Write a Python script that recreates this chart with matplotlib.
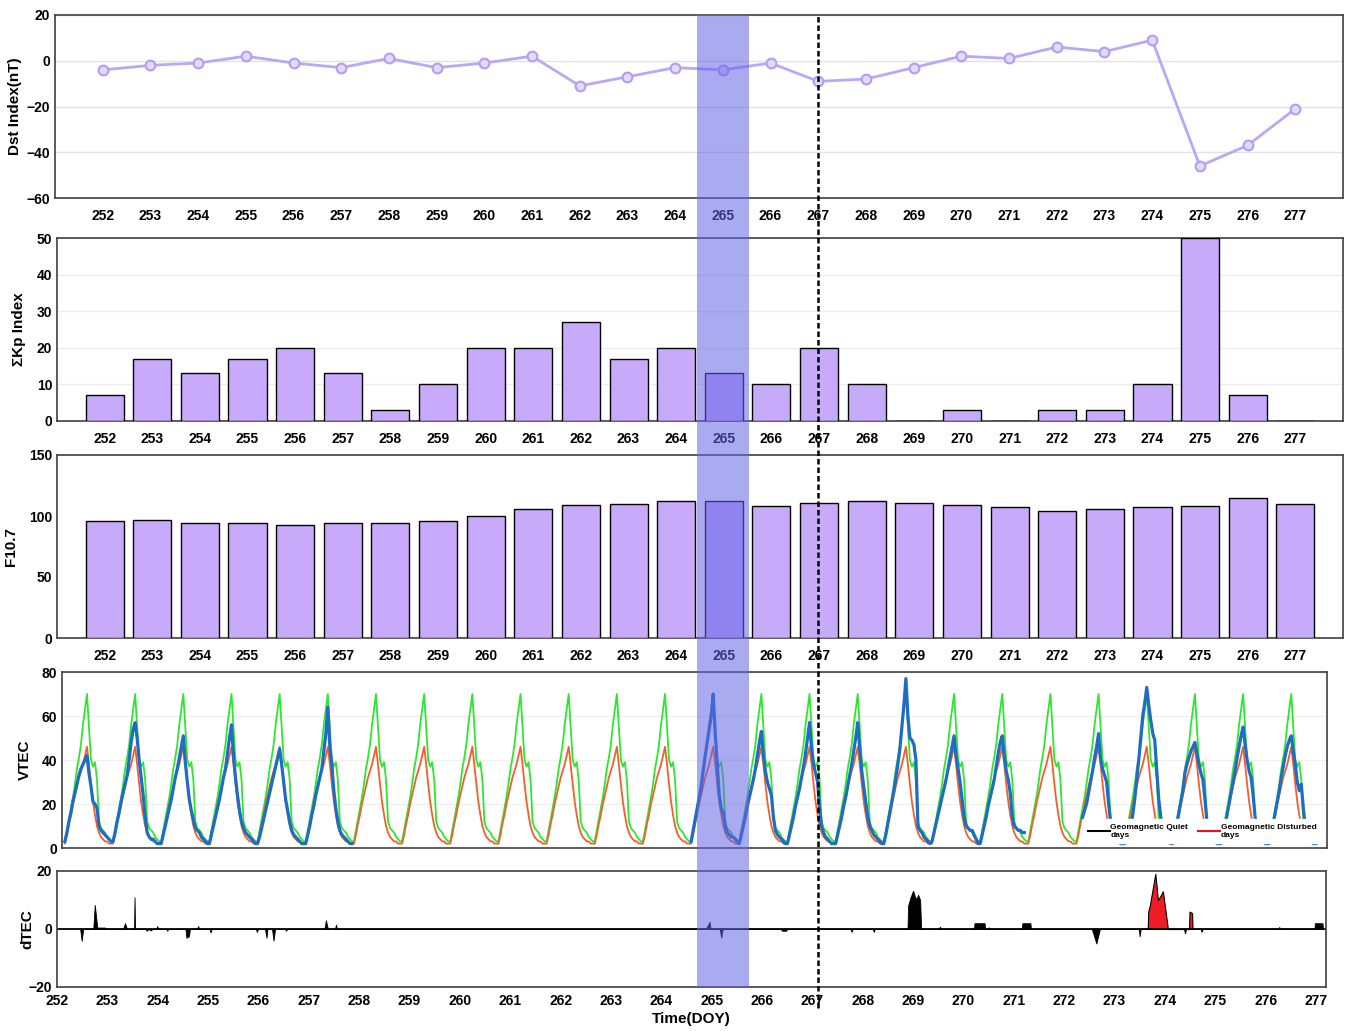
import numpy as np
import matplotlib.pyplot as plt
from matplotlib import font_manager
from matplotlib.lines import Line2D
from matplotlib.patches import Rectangle
from matplotlib.transforms import blended_transform_factory

# ---- data ----
doy = list(range(252, 278))

dst = [-4, -2, -1, 2, -1, -3, 1, -3, -1, 2, -11, -7, -3, -4, -1, -9, -8, -3, 2, 1, 6, 4, 9, -46, -37, -21]
kp_sum = [7, 17, 13, 17, 20, 13, 3, 10, 20, 20, 27, 17, 20, 13, 10, 20, 10, 0, 3, 0, 3, 3, 10, 50, 7, 0]
f107 = [96, 97, 94, 94, 93, 94, 94, 96, 100, 106, 109, 110, 112, 112, 108, 111, 112, 111, 109, 107, 104, 106, 107, 108, 115, 110]

# hourly VTEC of one day, hour 0 = pre-dawn minimum (same curve each day)
vtec_upper = [3, 8, 13, 18, 23, 29, 36, 41, 47, 56, 63, 70, 55, 40, 37, 39, 31, 12, 9, 8, 7, 5, 4, 3]
vtec_lower = [2, 6, 11, 15, 20, 24, 28, 32, 35, 38, 42, 46, 38, 29, 21, 15, 10, 7, 5, 4, 3, 3, 2, 2]

nan = np.nan
# observed hourly VTEC, one row per day 252..277 (None = no data)
vtec_obs = [
    [3, 7, 12, 16, 21, 25, 29, 33, 36, 38, 40, 42, 34, 28, 21, 20, 18, 10, 8, 7, 6, 5, 4, 3],
    [3, 7, 12, 16, 21, 25, 29, 33, 40, 48, 54, 57, 50, 40, 32, 24, 14, 7, 5, 4, 4, 3, 2, 2],
    [2, 6, 10, 14, 18, 22, 27, 32, 36, 41, 46, 51, 39, 30, 22, 17, 13, 9, 8, 7, 5, 4, 3, 2],
    [2, 6, 10, 14, 18, 22, 27, 32, 36, 43, 50, 56, 42, 32, 24, 17, 12, 9, 7, 6, 5, 4, 3, 2],
    [2, 5, 9, 13, 17, 21, 25, 29, 33, 37, 41, 45, 38, 30, 22, 17, 12, 8, 6, 5, 4, 3, 2, 2],
    [2, 6, 10, 15, 19, 24, 28, 32, 36, 44, 52, 64, 46, 38, 26, 18, 12, 8, 6, 5, 4, 3, 2, 2],
    None, None, None, None, None, None, None,
    [3, 8, 13, 18, 23, 28, 35, 42, 48, 54, 60, 70, 52, 38, 24, 18, 16, 10, 7, 6, 5, 5, 4, 3],
    [2, 6, 10, 14, 19, 23, 27, 31, 36, 42, 48, 53, 42, 35, 30, 27, 24, 14, 8, 6, 5, 4, 3, 2],
    [2, 6, 10, 14, 19, 23, 27, 32, 37, 43, 50, 57, 45, 38, 34, 30, 18, 10, 7, 5, 4, 3, 2, 2],
    [2, 6, 10, 14, 19, 23, 28, 33, 38, 44, 50, 57, 45, 35, 28, 21, 14, 10, 8, 6, 5, 4, 3, 2],
    [2, 6, 11, 16, 21, 26, 32, 38, 45, 55, 65, 77, 60, 50, 49, 47, 40, 10, 8, 7, 5, 4, 3, 2],
    [3, 7, 11, 15, 19, 23, 27, 31, 36, 41, 46, 51, 42, 36, 30, 22, 14, 10, 9, 8, 8, 6, 4, 2],
    [2, 6, 10, 14, 19, 23, 27, 31, 37, 43, 48, 51, 42, 35, 31, 25, 14, 10, 9, 8, 8, 7, 7, nan],
    None,
    [nan, nan, nan, 14, 17, 20, 25, 30, 35, 41, 46, 52, 40, 36, 33, 30, 20, 12, 8, 5, 4, 3, 2, 2],
    [2, 4, 6, 9, 15, 22, 31, 40, 50, 60, 66, 73, 65, 58, 52, 49, 35, 22, 14, 9, 6, 4, 3, 2],
    [2, 6, 11, 16, 21, 26, 34, 38, 41, 44, 46, 48, 43, 38, 34, 31, 22, 12, 8, 5, 4, 3, 2, 2],
    [2, 6, 10, 15, 20, 25, 30, 35, 41, 46, 51, 55, 47, 40, 35, 32, 24, 14, 8, 5, 4, 3, 2, 2],
    [2, 6, 11, 16, 21, 26, 32, 37, 42, 46, 49, 51, 44, 38, 30, 26, 29, 18, 10, 6, 4, 3, 2, 2],
]

# dTEC (black) and storm-time dTEC (red), DOY / TECU
dtec_t = [252.46, 252.49, 252.52, 252.72, 252.75, 252.80, 252.95, 252.98,
          253.31, 253.35, 253.39, 253.53, 253.54, 253.55,
          253.76, 253.78, 253.82, 253.86, 253.90, 253.97, 253.99, 254.01,
          254.17, 254.19, 254.21, 254.55, 254.57, 254.62, 254.64,
          254.78, 254.80, 254.83, 255.03, 255.05, 255.07,
          255.95, 255.97, 255.99, 256.13, 256.16, 256.18, 256.27, 256.30, 256.33,
          256.53, 256.55, 256.57, 257.31, 257.34, 257.38, 257.52, 257.54, 257.56,
          264.88, 264.93, 264.96, 264.98, 265.16, 265.19, 265.22,
          266.37, 266.40, 266.48, 266.50, 267.76, 267.78, 267.80, 268.20, 268.22, 268.24,
          268.89, 268.90, 268.95, 269.00, 269.04, 269.07, 269.10, 269.14, 269.16,
          269.51, 269.53, 269.56, 270.21, 270.22, 270.42, 270.43, 270.48, 270.50, 270.52,
          271.16, 271.17, 271.33, 271.34, 272.55, 272.64, 272.71, 273.48, 273.50, 273.52,
          274.38, 274.40, 274.42, 274.71, 274.73, 274.75, 276.25, 276.27, 276.30,
          276.97, 276.98, 277.13, 277.14]
dtec_v = [0, -4.1, 0, 0, 8.3, 0.5, 0.5, 0,
          0, 2.0, 0, 0, 11.0, 0,
          0, -0.6, 0, -0.5, 0, 0, 1.0, 0,
          0, -0.6, 0, 0, -3.0, -2.5, 0,
          0, 1.0, 0, 0, -1.2, 0,
          0, -1.0, 0, 0, -3.0, 0, 0, -4.0, 0,
          0, -0.6, 0, 0, 3.0, 0, 0, 1.5, 0,
          0, 1.5, 2.5, 0, 0, -3.0, 0,
          0, -0.6, -0.6, 0, 0, -1.0, 0, 0, -1.0, 0,
          0, 8, 11, 13.2, 11.0, 10.5, 11.8, 10, 0,
          0, 0.8, 0, 0, 2.0, 2.0, 0, 0, 0.6, 0,
          0, 2.0, 2.0, 0, 0, -5.0, 0, 0, -2.5, 0,
          0, -1.5, 0, 0, -1.0, 0, 0, 0.7, 0,
          0, 2.0, 2.0, 0]
storm_t = [273.66, 273.67, 273.70, 273.74, 273.78, 273.81, 273.84, 273.86, 273.90, 273.96, 274.00, 274.06,
           274.48, 274.49, 274.54, 274.55]
storm_v = [0, 6, 8, 12, 16, 19, 14, 10, 11, 13, 8, 0,
           0, 6, 5.5, 0]

storm_day = 265      # shaded day
event_day = 267      # dashed marker

# ---- style ----
names = {f.name for f in font_manager.fontManager.ttflist}
narrow = 'Liberation Sans Narrow' if 'Liberation Sans Narrow' in names else 'Liberation Sans'
plt.rcParams['font.family'] = [narrow, 'DejaVu Sans']
plt.rcParams['font.weight'] = 'bold'
plt.rcParams['axes.labelweight'] = 'bold'

lav = '#c8aafa'
tick_fs = 10
label_fs = 11

fig = plt.figure(figsize=(13.5, 10.31), dpi=100)
W, H = 1350, 1031


def add_panel(l, t, r, b):
    return fig.add_axes([l / W, 1 - b / H, (r - l) / W, (b - t) / H])


ax1 = add_panel(55, 15, 1343, 198)
ax2 = add_panel(57, 238, 1343, 421)
ax3 = add_panel(57, 455, 1343, 638)
ax4 = add_panel(62, 672, 1327, 848)
ax5 = add_panel(57, 871, 1326, 987)

for ax in (ax1, ax2, ax3, ax4, ax5):
    for s in ax.spines.values():
        s.set_color('#404040')
        s.set_linewidth(1.2)
    ax.tick_params(length=0, labelsize=tick_fs)

# Dst
ax1.plot(doy, dst, color='#bca6f7', lw=2, marker='o', ms=7,
         markerfacecolor='#e4dafc', markeredgecolor='#b49cf5', markeredgewidth=1.5, zorder=3)
ax1.set_xlim(251, 278)
ax1.set_ylim(-60, 20)
ax1.set_yticks([-60, -40, -20, 0, 20])
ax1.set_xticks(doy)
ax1.grid(axis='y', color='#e2e2e2', lw=1)
ax1.set_axisbelow(True)
ax1.tick_params(axis='x', pad=8)
ax1.set_ylabel('Dst Index(nT)', fontsize=label_fs)
ax1.yaxis.set_label_coords(-0.026, 0.5)

# sum Kp
ax2.bar(doy, kp_sum, width=0.8, color=lav, edgecolor='black', linewidth=1, zorder=3)
ax2.set_xlim(251, 278)
ax2.set_ylim(0, 50)
ax2.set_yticks(range(0, 51, 10))
ax2.set_xticks(doy)
ax2.grid(axis='y', color='#ececec', lw=1)
ax2.set_axisbelow(True)
ax2.tick_params(axis='x', pad=8)
ax2.set_ylabel('ΣKp Index', fontsize=label_fs)
ax2.yaxis.set_label_coords(-0.024, 0.5)

# F10.7
ax3.bar(doy, f107, width=0.8, color=lav, edgecolor='black', linewidth=1, zorder=3)
ax3.set_xlim(251, 278)
ax3.set_ylim(0, 150)
ax3.set_yticks([0, 50, 100, 150])
ax3.set_xticks(doy)
ax3.tick_params(axis='x', pad=8)
ax3.set_ylabel('F10.7', fontsize=label_fs)
ax3.yaxis.set_label_coords(-0.030, 0.5)

# VTEC
n_days = len(doy)
t_hour = doy[0] + np.arange(n_days * 24 + 1) / 24
upper = np.append(np.tile(vtec_upper, n_days), vtec_upper[0])
lower = np.append(np.tile(vtec_lower, n_days), vtec_lower[0])
obs = np.concatenate([np.full(24, nan) if row is None else np.array(row, float) for row in vtec_obs])
obs = np.append(obs, nan)

ax4.plot(t_hour, upper, color='#2ee62e', lw=1.3, zorder=2)
ax4.plot(t_hour, lower, color='#f0602c', lw=1.3, zorder=2)
ax4.plot(t_hour, obs, color='#1f6cc4', lw=2.3, zorder=3)
ax4.set_xlim(251.94, 278.2)
ax4.set_ylim(0, 80)
ax4.set_yticks(range(0, 81, 20))
ax4.set_xticks([])
ax4.grid(axis='y', color='#f0f0f0', lw=1)
ax4.set_axisbelow(True)
ax4.set_ylabel('VTEC', fontsize=label_fs)
ax4.yaxis.set_label_coords(-0.024, 0.5)
handles = [Line2D([], [], color='black', lw=1.5), Line2D([], [], color='#e8102a', lw=1.5)]
leg = ax4.legend(handles, ['Geomagnetic Quiet\ndays', 'Geomagnetic Disturbed\ndays'],
                 ncol=2, loc='lower right', bbox_to_anchor=(0.995, 0.03), fontsize=6,
                 frameon=True, fancybox=False, framealpha=1, edgecolor='white',
                 handlelength=2.6, handletextpad=0.1, columnspacing=1.2,
                 borderpad=0.5, borderaxespad=0)
leg.set_zorder(5)

# dTEC
ax5.fill_between(dtec_t, 0, dtec_v, color='black', lw=0.6)
ax5.fill_between(storm_t, 0, storm_v, facecolor='#ee1c24', edgecolor='black', lw=0.8)
ax5.axhline(0, color='black', lw=1.3)
ax5.set_xlim(252, 277.2)
ax5.set_ylim(-20, 20)
ax5.set_yticks([-20, 0, 20])
ax5.set_xticks(doy)
ax5.tick_params(axis='x', pad=5)
ax5.set_ylabel('dTEC', fontsize=label_fs)
ax5.yaxis.set_label_coords(-0.018, 0.5)
ax5.set_xlabel('Time(DOY)', fontsize=label_fs, labelpad=3)

# shaded storm day and dashed event marker across all panels
trans = blended_transform_factory(ax1.transData, fig.transFigure)
y_top = 1 - 15 / H
y_bot = 1 - 987 / H
fig.add_artist(Rectangle((storm_day - 0.55, y_bot), 1.1, y_top - y_bot, transform=trans,
                         facecolor='#6464e6', alpha=0.55, edgecolor='none', zorder=6))
fig.add_artist(Line2D([event_day, event_day], [1 - 1008 / H, y_top], transform=trans,
                      color='black', lw=1.8, ls=(0, (2.2, 1.2)), zorder=7))

fig.savefig('out.png', dpi=100)
